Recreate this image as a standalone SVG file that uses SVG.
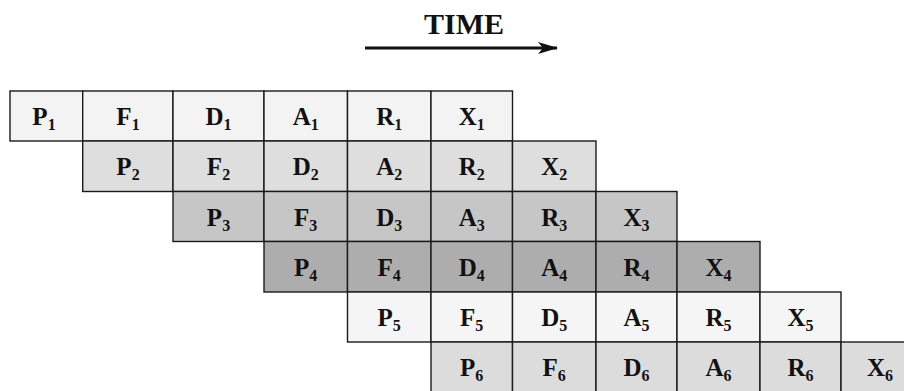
<svg xmlns="http://www.w3.org/2000/svg" width="904" height="391" viewBox="0 0 904 391">
<style>
  .c rect { stroke: #1a1a1a; stroke-width: 1.4; }
  .r1 rect { fill: #f3f3f3; }
  .r2 rect { fill: #dedede; }
  .r3 rect { fill: #c6c6c6; }
  .r4 rect { fill: #adadad; }
  .r5 rect { fill: #f5f5f5; }
  .r6 rect { fill: #dcdcdc; }
  text { font-family: "Liberation Serif", "Times New Roman", serif; font-weight: bold; fill: #111; }
  .c text { font-size: 25px; text-anchor: middle; }
  .s { font-size: 16px; }
  .title { font-size: 30px; text-anchor: middle; }
</style>
<defs>
  <marker id="ah" viewBox="0 0 20 12" refX="19" refY="6" markerWidth="20" markerHeight="12" markerUnits="userSpaceOnUse" orient="auto">
    <path d="M0,0 L20,6 L0,12 L5,6 Z" fill="#111"/>
  </marker>
</defs>
<rect width="904" height="391" fill="#ffffff"/>
<text id="time-label" class="title" x="464" y="34">TIME</text>
<g id="connectors">
  <line x1="365" y1="48" x2="557" y2="48" stroke="#111" stroke-width="3.2" marker-end="url(#ah)"/>
</g>

<g id="row1" class="r1">
  <g id="P1" class="c"><rect x="10" y="91" width="72.7" height="50"/><text x="44" y="125">P<tspan class="s" dy="5">1</tspan></text></g>
  <g id="F1" class="c"><rect x="82.7" y="91" width="90.3" height="50"/><text x="128" y="125">F<tspan class="s" dy="5">1</tspan></text></g>
  <g id="D1" class="c"><rect x="173" y="91" width="91" height="50"/><text x="218.5" y="125">D<tspan class="s" dy="5">1</tspan></text></g>
  <g id="A1" class="c"><rect x="264" y="91" width="83.5" height="50"/><text x="305.7" y="125">A<tspan class="s" dy="5">1</tspan></text></g>
  <g id="R1" class="c"><rect x="347.5" y="91" width="83.5" height="50"/><text x="389.2" y="125">R<tspan class="s" dy="5">1</tspan></text></g>
  <g id="X1" class="c"><rect x="431" y="91" width="81.5" height="50"/><text x="471.7" y="125">X<tspan class="s" dy="5">1</tspan></text></g>
</g>

<g id="row2" class="r2">
  <g id="P2" class="c"><rect x="82.7" y="141" width="90.3" height="50.5"/><text x="128" y="175">P<tspan class="s" dy="5">2</tspan></text></g>
  <g id="F2" class="c"><rect x="173" y="141" width="91" height="50.5"/><text x="218.5" y="175">F<tspan class="s" dy="5">2</tspan></text></g>
  <g id="D2" class="c"><rect x="264" y="141" width="83.5" height="50.5"/><text x="305.7" y="175">D<tspan class="s" dy="5">2</tspan></text></g>
  <g id="A2" class="c"><rect x="347.5" y="141" width="83.5" height="50.5"/><text x="389.2" y="175">A<tspan class="s" dy="5">2</tspan></text></g>
  <g id="R2" class="c"><rect x="431" y="141" width="81.5" height="50.5"/><text x="471.7" y="175">R<tspan class="s" dy="5">2</tspan></text></g>
  <g id="X2" class="c"><rect x="512.5" y="141" width="83.5" height="50.5"/><text x="554.2" y="175">X<tspan class="s" dy="5">2</tspan></text></g>
</g>

<g id="row3" class="r3">
  <g id="P3" class="c"><rect x="173" y="191.5" width="91" height="50"/><text x="218.5" y="225.5">P<tspan class="s" dy="5">3</tspan></text></g>
  <g id="F3" class="c"><rect x="264" y="191.5" width="83.5" height="50"/><text x="305.7" y="225.5">F<tspan class="s" dy="5">3</tspan></text></g>
  <g id="D3" class="c"><rect x="347.5" y="191.5" width="83.5" height="50"/><text x="389.2" y="225.5">D<tspan class="s" dy="5">3</tspan></text></g>
  <g id="A3" class="c"><rect x="431" y="191.5" width="81.5" height="50"/><text x="471.7" y="225.5">A<tspan class="s" dy="5">3</tspan></text></g>
  <g id="R3" class="c"><rect x="512.5" y="191.5" width="83.5" height="50"/><text x="554.2" y="225.5">R<tspan class="s" dy="5">3</tspan></text></g>
  <g id="X3" class="c"><rect x="596" y="191.5" width="81" height="50"/><text x="636.5" y="225.5">X<tspan class="s" dy="5">3</tspan></text></g>
</g>

<g id="row4" class="r4">
  <g id="P4" class="c"><rect x="264" y="241.5" width="83.5" height="50.5"/><text x="305.7" y="275.5">P<tspan class="s" dy="5">4</tspan></text></g>
  <g id="F4" class="c"><rect x="347.5" y="241.5" width="83.5" height="50.5"/><text x="389.2" y="275.5">F<tspan class="s" dy="5">4</tspan></text></g>
  <g id="D4" class="c"><rect x="431" y="241.5" width="81.5" height="50.5"/><text x="471.7" y="275.5">D<tspan class="s" dy="5">4</tspan></text></g>
  <g id="A4" class="c"><rect x="512.5" y="241.5" width="83.5" height="50.5"/><text x="554.2" y="275.5">A<tspan class="s" dy="5">4</tspan></text></g>
  <g id="R4" class="c"><rect x="596" y="241.5" width="81" height="50.5"/><text x="636.5" y="275.5">R<tspan class="s" dy="5">4</tspan></text></g>
  <g id="X4" class="c"><rect x="677" y="241.5" width="83" height="50.5"/><text x="718.5" y="275.5">X<tspan class="s" dy="5">4</tspan></text></g>
</g>

<g id="row5" class="r5">
  <g id="P5" class="c"><rect x="347.5" y="292" width="83.5" height="50"/><text x="389.2" y="326">P<tspan class="s" dy="5">5</tspan></text></g>
  <g id="F5" class="c"><rect x="431" y="292" width="81.5" height="50"/><text x="471.7" y="326">F<tspan class="s" dy="5">5</tspan></text></g>
  <g id="D5" class="c"><rect x="512.5" y="292" width="83.5" height="50"/><text x="554.2" y="326">D<tspan class="s" dy="5">5</tspan></text></g>
  <g id="A5" class="c"><rect x="596" y="292" width="81" height="50"/><text x="636.5" y="326">A<tspan class="s" dy="5">5</tspan></text></g>
  <g id="R5" class="c"><rect x="677" y="292" width="83" height="50"/><text x="718.5" y="326">R<tspan class="s" dy="5">5</tspan></text></g>
  <g id="X5" class="c"><rect x="760" y="292" width="81" height="50"/><text x="800.5" y="326">X<tspan class="s" dy="5">5</tspan></text></g>
</g>

<g id="row6" class="r6">
  <g id="P6" class="c"><rect x="431" y="342" width="81.5" height="52"/><text x="471.7" y="376">P<tspan class="s" dy="5">6</tspan></text></g>
  <g id="F6" class="c"><rect x="512.5" y="342" width="83.5" height="52"/><text x="554.2" y="376">F<tspan class="s" dy="5">6</tspan></text></g>
  <g id="D6" class="c"><rect x="596" y="342" width="81" height="52"/><text x="636.5" y="376">D<tspan class="s" dy="5">6</tspan></text></g>
  <g id="A6" class="c"><rect x="677" y="342" width="83" height="52"/><text x="718.5" y="376">A<tspan class="s" dy="5">6</tspan></text></g>
  <g id="R6" class="c"><rect x="760" y="342" width="81" height="52"/><text x="800.5" y="376">R<tspan class="s" dy="5">6</tspan></text></g>
  <g id="X6" class="c"><rect x="841" y="342" width="82" height="52"/><text x="880" y="376">X<tspan class="s" dy="5">6</tspan></text></g>
</g>
</svg>
